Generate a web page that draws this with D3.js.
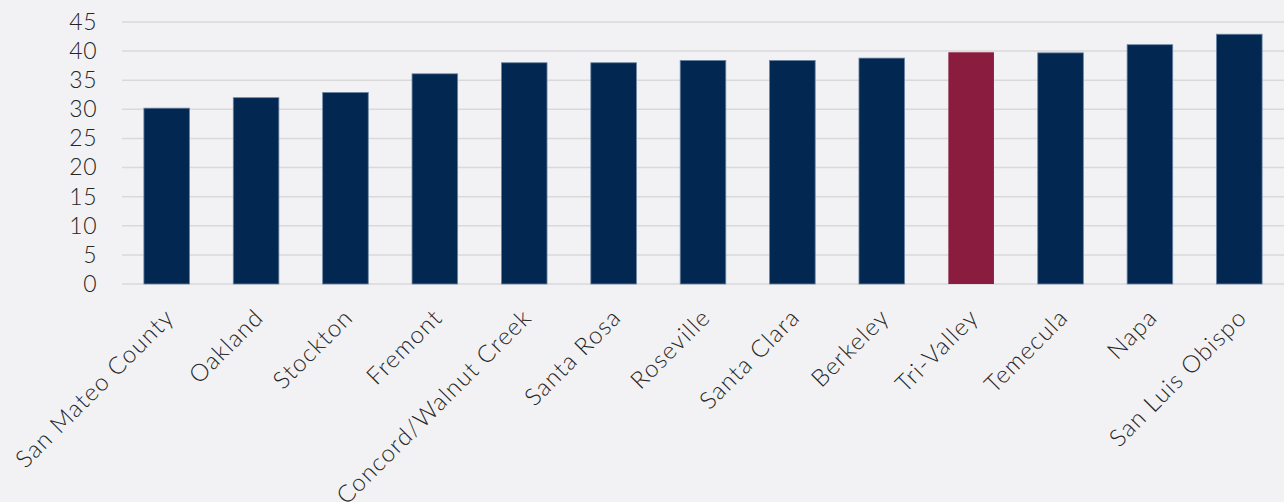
<!DOCTYPE html>
<html>
<head>
<meta charset="utf-8">
<script src="https://cdn.jsdelivr.net/npm/d3@7"></script>
<style>
  html, body { margin: 0; padding: 0; background: #f2f2f4; }
  svg { display: block; }
  text { fill: #262626; }
</style>
</head>
<body>
<svg id="chart" width="1284" height="502"></svg>
<script>
// City names along the x axis
const categories = [
  "San Mateo County", "Oakland", "Stockton", "Fremont", "Concord/Walnut Creek",
  "Santa Rosa", "Roseville", "Santa Clara", "Berkeley", "Tri-Valley",
  "Temecula", "Napa", "San Luis Obispo"
];
// One value per city
const values = [30.2, 32.0, 32.9, 36.1, 38.0, 38.0, 38.4, 38.4, 38.8, 39.8, 39.7, 41.1, 42.9];
// Highlighted city
const highlight = "Tri-Valley";
// Y axis ticks
const yTicks = [0, 5, 10, 15, 20, 25, 30, 35, 40, 45];

const W = 1284, H = 502;
const margin = { top: 22, right: 0, bottom: 218, left: 122 };
const svg = d3.select("#chart");

const x = d3.scaleBand()
  .domain(categories)
  .range([margin.left, W - margin.right])
  .paddingInner(0.49)
  .paddingOuter(0.245);

const y = d3.scaleLinear()
  .domain([0, 45])
  .range([H - margin.bottom, margin.top]);

// Horizontal gridlines
svg.append("g")
  .selectAll("line")
  .data(yTicks)
  .join("line")
  .attr("x1", margin.left)
  .attr("x2", W - margin.right)
  .attr("y1", d => y(d))
  .attr("y2", d => y(d))
  .attr("stroke", "#d9d9db")
  .attr("stroke-width", 1.5);

// Bars
svg.append("g")
  .selectAll("rect")
  .data(categories.map((c, i) => ({ c, v: values[i] })))
  .join("rect")
  .attr("x", d => x(d.c))
  .attr("width", x.bandwidth())
  .attr("y", d => y(d.v))
  .attr("height", d => y(0) - y(d.v))
  .attr("fill", d => d.c === highlight ? "#8a1c40" : "#022751")
  .attr("stroke", d => d.c === highlight ? "none" : "#6c84a3")
  .attr("stroke-width", 0.8);

// Y axis labels
const yAxis = d3.axisLeft(y).tickValues(yTicks).tickSize(0).tickPadding(0);
svg.append("g")
  .attr("transform", `translate(${margin.left - 25},0)`)
  .call(yAxis)
  .call(g => g.select(".domain").remove())
  .selectAll("text")
  .style("font-family", "Lato, sans-serif")
  .style("font-size", "23px")
  .style("font-weight", "300")
  .style("letter-spacing", "0.5px")
  .attr("fill", "#262626");

// X axis labels, rotated
const xAxis = d3.axisBottom(x).tickSize(0).tickPadding(0);
svg.append("g")
  .attr("transform", `translate(0,${y(0)})`)
  .call(xAxis)
  .call(g => g.select(".domain").remove())
  .selectAll("text")
  .style("font-family", "Lato, sans-serif")
  .style("font-size", "24px")
  .style("font-weight", "300")
  .style("letter-spacing", "1.2px")
  .attr("fill", "#262626")
  .attr("text-anchor", "end")
  .attr("y", 0)
  .attr("dy", 0)
  .attr("transform", "translate(9,35) rotate(-45)");
</script>
</body>
</html>
